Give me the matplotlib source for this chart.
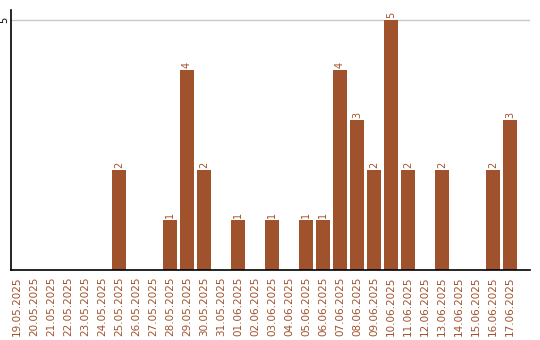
import matplotlib
matplotlib.use("Agg")
import matplotlib.pyplot as plt

dates = ["19.05.2025", "20.05.2025", "21.05.2025", "22.05.2025", "23.05.2025", "24.05.2025",
         "25.05.2025", "26.05.2025", "27.05.2025", "28.05.2025", "29.05.2025", "30.05.2025",
         "31.05.2025", "01.06.2025", "02.06.2025", "03.06.2025", "04.06.2025", "05.06.2025",
         "06.06.2025", "07.06.2025", "08.06.2025", "09.06.2025", "10.06.2025", "11.06.2025",
         "12.06.2025", "13.06.2025", "14.06.2025", "15.06.2025", "16.06.2025", "17.06.2025"]
values = [0, 0, 0, 0, 0, 0, 2, 0, 0, 1, 4, 2, 0, 1, 0, 1, 0, 1, 1, 4, 3, 2, 5, 2, 0, 2, 0, 0, 2, 3]

color = "#A0522D"

fig = plt.figure(figsize=(5.4, 3.4), dpi=100)
ax = fig.add_axes([11/540, 70/340, 519/540, 260/340])
x = list(range(len(dates)))
bars = ax.bar(x, values, width=0.82, color=color, zorder=2)
for xi, v in zip(x, values):
    if v > 0:
        ax.text(xi, v + 0.04, str(v), rotation=90, ha="center", va="bottom",
                fontsize=7, color=color)

ax.set_xlim(-0.35, 30.18)
ax.set_ylim(0, 5.2)
ax.set_yticks([5])
ax.set_yticklabels(["5"], rotation=90, va="center", fontsize=7)
ax.yaxis.grid(True, color="#c8c8c8", linewidth=1, zorder=0)
ax.set_xticks(x)
ax.set_xticklabels(dates, rotation=90, fontsize=7.5, color=color)
ax.tick_params(axis="x", length=0, pad=5)
ax.tick_params(axis="y", length=0, pad=1)
ax.spines["top"].set_visible(False)
ax.spines["right"].set_visible(False)
ax.spines["left"].set_linewidth(1.2)
ax.spines["bottom"].set_linewidth(1.2)

fig.savefig("out.png", dpi=100)
